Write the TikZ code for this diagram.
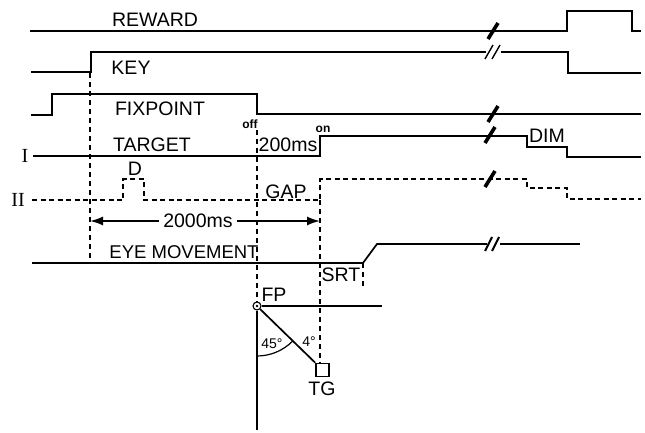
\documentclass[tikz,border=0pt]{standalone}
\usepackage{fontspec}
\setmainfont{Liberation Sans}
\newfontfamily\romfont{Liberation Serif}
\usetikzlibrary{arrows.meta}
\begin{document}
\begin{tikzpicture}[x=1pt,y=-1pt,
  sig/.style={line width=1.7pt, line join=miter},
  dsig/.style={line width=1.5pt, dash pattern=on 5pt off 3.5pt},
  guide/.style={line width=1.4pt, dash pattern=on 5pt off 4pt},
  lbl/.style={inner sep=0pt, font=\fontsize{19.5}{22}\selectfont},
  small/.style={inner sep=0pt, font=\fontsize{12}{13}\selectfont\bfseries},
  angl/.style={inner sep=0pt, font=\fontsize{14}{16}\selectfont},
  roman/.style={inner sep=0pt, font=\romfont\fontsize{20}{22}\selectfont},
  brk/.style={line width=3.6pt},
  brktwo/.style={line width=1.4pt},
  arr/.style={line width=1.7pt, -{Latex[length=13pt,width=9pt]}},
]
\useasboundingbox (0,0) rectangle (645,433);

% ---- REWARD
\draw[sig] (30,31) -- (567,31) -- (567,11) -- (632,11) -- (632,31) -- (641,31);
\draw[brk] (488,39) -- (498,23);
\node[lbl] (reward) at (155,20) {REWARD};

% ---- KEY
\draw[sig] (31,72) -- (91,72) -- (91,52) -- (486,52);
\draw[sig] (501,52) -- (568,52) -- (568,73) -- (641,73);
\draw[brktwo] (485,59) -- (493,45);
\draw[brktwo] (492,59) -- (500,45);
\node[lbl] (key) at (131,68) {KEY};

% ---- FIXPOINT
\draw[sig] (31,115) -- (52,115) -- (52,94) -- (257,94) -- (257,114) -- (641,114);
\draw[brk] (488,122) -- (498,106);
\node[lbl] (fix) at (160,109) {FIXPOINT};

% ---- TARGET I
\draw[sig] (33,156) -- (320,156) -- (320,136) -- (527,136) -- (527,147) -- (567,147) -- (567,157) -- (641,157);
\draw[brk] (485,143) -- (495,127);
\node[lbl] (target) at (152,145) {TARGET};
\node[lbl] (t200) at (288,145) {200ms};
\node[small] (off) at (250,124) {off};
\node[small] (on) at (323,129) {on};
\node[lbl] (dim) at (547,136) {DIM};
\node[roman] (one) at (25,156) {I};

% ---- TARGET II (dashed)
\draw[dsig] (32,200) -- (123,200) -- (123,179) -- (144,179) -- (144,200) -- (320,200) -- (320,179) -- (527,179) -- (527,188) -- (567,188) -- (567,199) -- (641,199);
\draw[brk] (485,187) -- (495,171);
\node[roman] (two) at (18,200) {II};
\node[lbl] (d) at (135,169) {D};
\node[lbl] (gap) at (286,192) {GAP};

% ---- guides
\draw[guide] (90,73) -- (90,262);
\draw[guide] (257,130) -- (257,302);
\draw[guide] (320,200) -- (320,363);
\draw[guide] (363,263) -- (363,286);

% ---- 2000 ms
\node[lbl, inner xsep=4pt] (t2000) at (198,221) {2000ms};
\coordinate (aL) at (90,221);
\coordinate (aR) at (320,221);
\draw[arr] (t2000.west) -- (aL);
\draw[arr] (t2000.east) -- (aR);

% ---- EYE MOVEMENT
\draw[sig] (32,263) -- (363,263) -- (377,244) -- (487,244);
\draw[sig] (500,244) -- (580,244);
\draw[brktwo, line width=2pt] (485,251) -- (492,237);
\draw[brktwo, line width=2pt] (492,251) -- (499,237);
\node[lbl, font=\fontsize{18.5}{22}\selectfont] (eye) at (184,252) {EYE MOVEMENT};
\node[lbl] (srt) at (341,275) {SRT};

% ---- geometry
\node[circle, draw, line width=1.1pt, minimum size=8pt, inner sep=0pt] (fpc) at (257,306) {};
\fill (257,306) circle (1.3pt);
\node[draw, line width=1.6pt, minimum width=13pt, minimum height=13pt, inner sep=0pt] (tgbox) at (322.5,370) {};
\coordinate (hEnd) at (382,306);
\coordinate (vEnd) at (257,430);
\draw[sig] (fpc.east) -- (hEnd);
\draw[sig] (fpc.south) -- (vEnd);
\draw[sig] (fpc.south east) -- (tgbox.north west);
\draw[line width=1.2pt] (257,356) arc[start angle=90, end angle=45, radius=50];
\node[lbl] (fp) at (274,295) {FP};
\node[lbl] (tg) at (322,389) {TG};
\node[angl] (a45) at (272,344) {45°};
\node[angl] (a4) at (309,342) {4°};
\end{tikzpicture}
\end{document}
